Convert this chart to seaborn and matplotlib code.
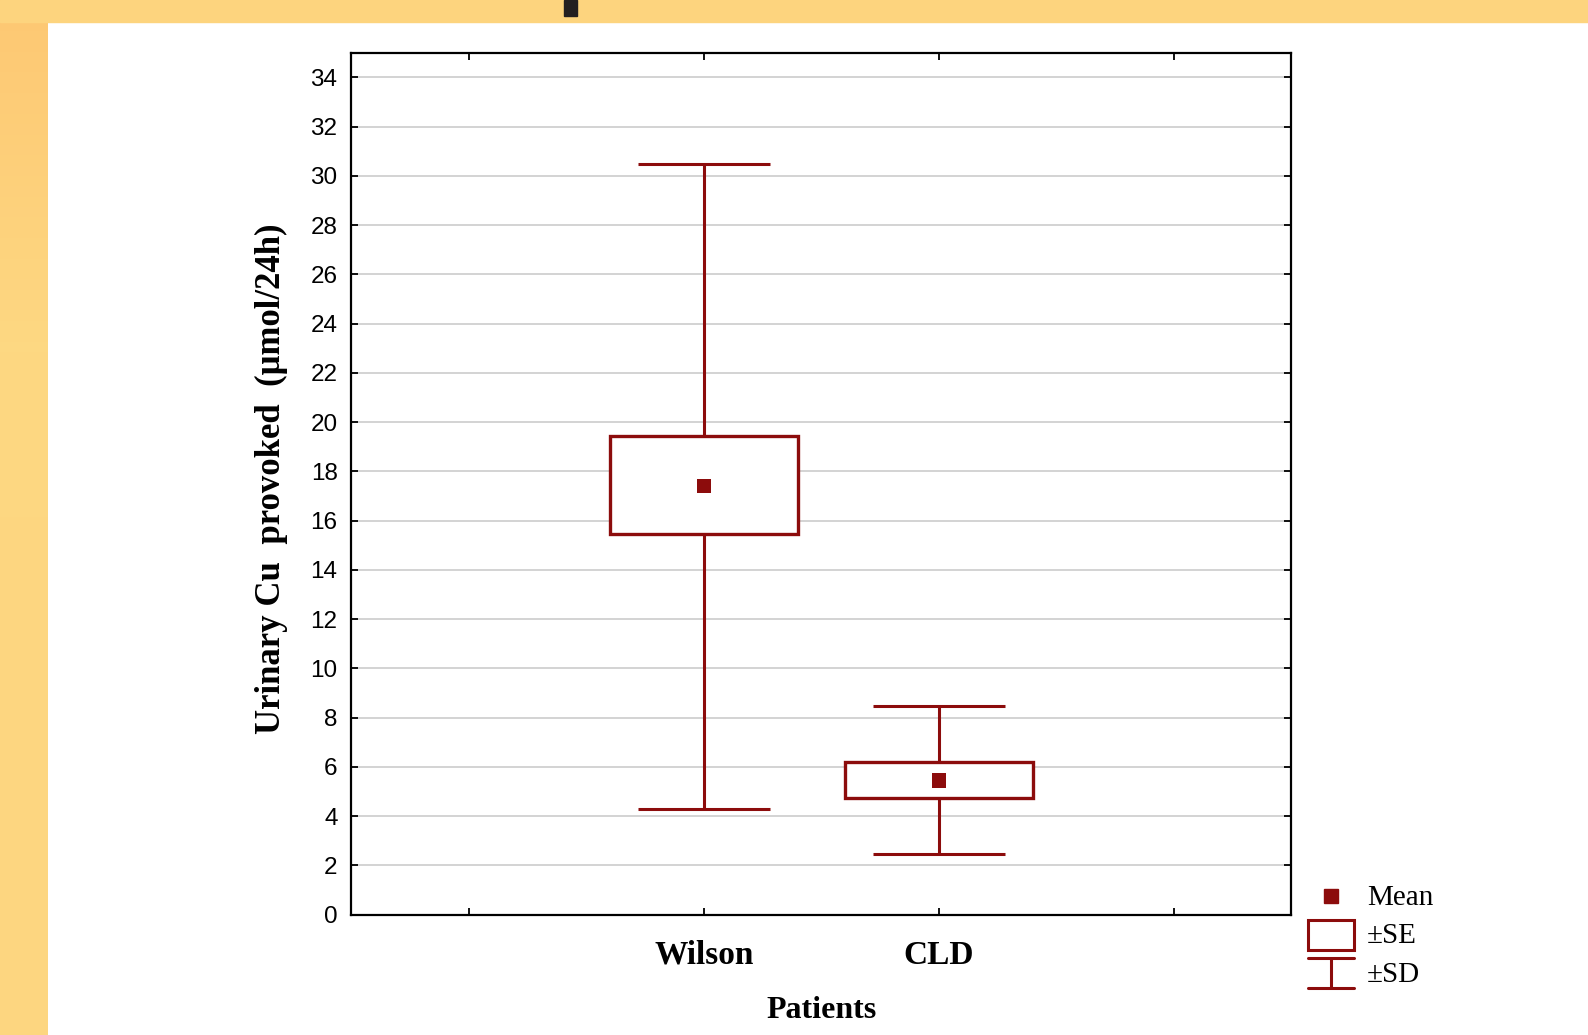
import numpy as np
import pandas as pd
import matplotlib
matplotlib.use("Agg")
import matplotlib.pyplot as plt
from matplotlib.patches import Rectangle
from matplotlib.lines import Line2D
from matplotlib.colors import LinearSegmentedColormap
import seaborn as sns

# ---------------- data ----------------
groups = ["Wilson", "CLD"]
means = [17.4, 5.45]
se_low = [15.45, 4.75]
se_high = [19.45, 6.2]
sd_low = [4.3, 2.45]
sd_high = [30.5, 8.45]
tick_labels = ["", "Wilson", "CLD", ""]
y_ticks = list(range(0, 36, 2))

RED = "#8C0C0C"
W, H = 1588, 1035

sns.set_theme(style="white")
plt.rcParams["font.family"] = ["Liberation Sans", "DejaVu Sans"]
plt.rcParams.update({"text.color": "black", "axes.labelcolor": "black",
                     "xtick.color": "black", "ytick.color": "black"})

fig = plt.figure(figsize=(W / 100, H / 100), dpi=100, facecolor="white")

# slide background strips
def px_rect(x0, y0, x1, y1, color, z=0):
    fig.patches.append(Rectangle((x0 / W, 1 - y1 / H), (x1 - x0) / W, (y1 - y0) / H,
                                 transform=fig.transFigure, color=color, zorder=z))

grad = np.linspace(0, 1, 100).reshape(-1, 1)
bax = fig.add_axes([0, 0, 48 / W, 1], zorder=-5)
cmap = LinearSegmentedColormap.from_list("o", ["#FDC873", "#FDD882", "#FDD680", "#FDD680"])
bax.imshow(grad, aspect="auto", cmap=cmap, extent=[0, 1, 0, 1], origin="upper")
bax.axis("off")
px_rect(0, 0, W, 22, "#FDD47E")
px_rect(564, 0, 577, 16, "#231F20", z=2)

# ---------------- main axes ----------------
left, right, top, bottom = 351.4, 1291.3, 52.7, 914.5
ax = fig.add_axes([left / W, 1 - bottom / H, (right - left) / W, (bottom - top) / H])
ax.set_facecolor("white")

positions = np.arange(len(groups)) + 1
df = pd.DataFrame({"pos": positions, "mean": means, "se_lo": se_low, "se_hi": se_high,
                   "sd_lo": sd_low, "sd_hi": sd_high})

# SD whiskers
ax.vlines(df["pos"], df["sd_lo"], df["sd_hi"], color=RED, lw=2.2, zorder=3)
ax.hlines(df["sd_hi"], df["pos"] - 0.28, df["pos"] + 0.28, color=RED, lw=2.2, zorder=3)
ax.hlines(df["sd_lo"], df["pos"] - 0.28, df["pos"] + 0.28, color=RED, lw=2.2, zorder=3)
# SE boxes
ax.bar(df["pos"], df["se_hi"] - df["se_lo"], bottom=df["se_lo"], width=0.8,
       facecolor="white", edgecolor=RED, linewidth=2.4, zorder=4)
# means
sns.scatterplot(data=df, x="pos", y="mean", marker="s", s=110, color=RED,
                edgecolor="none", zorder=5, ax=ax, legend=False)

ax.set_xlim(-0.5, 3.5)
ax.set_ylim(0, 35)
ax.set_yticks(y_ticks)
ax.set_xticks(range(len(tick_labels)))
ax.set_xticklabels(tick_labels, fontfamily="Liberation Serif", fontweight="bold", fontsize=24)
ax.tick_params(axis="y", labelsize=17.5, direction="in", length=5, width=1.3,
               right=True, left=True, pad=10, colors="black")
ax.tick_params(axis="x", direction="in", length=5, width=1.3, top=True, bottom=True, pad=18,
               colors="black")
ax.yaxis.grid(True, color="#C8C8C8", lw=1.1, zorder=0)
ax.xaxis.grid(False)
ax.set_axisbelow(True)
for s in ax.spines.values():
    s.set_color("black")
    s.set_linewidth(1.6)

ax.set_xlabel("Patients", fontfamily="Liberation Serif", fontweight="bold", fontsize=23,
              color="black")
ax.xaxis.label.set_va("center")
ax.xaxis.set_label_coords(0.5, (bottom - 1011) / (bottom - top))
ax.set_ylabel("Urinary Cu  provoked  (\u03bcmol/24h)", fontfamily="Liberation Serif",
              fontweight="bold", fontsize=25, color="black")
ax.yaxis.label.set_va("center")
ax.yaxis.set_label_coords((271 - left) / (right - left), (bottom - 479) / (bottom - top))

# ---------------- legend (figure pixel coords) ----------------
def fx(x):
    return x / W

def fy(y):
    return 1 - y / H

fig.lines.append(Line2D([fx(1331)], [fy(896)], marker="s", markersize=9.5, color=RED,
                        linestyle="none", transform=fig.transFigure))
fig.patches.append(Rectangle((fx(1308), fy(950)), (1354 - 1308) / W, (950 - 920) / H,
                             transform=fig.transFigure, facecolor="white",
                             edgecolor=RED, lw=2.2))
for yy in (958, 987.5):
    fig.lines.append(Line2D([fx(1308), fx(1354)], [fy(yy), fy(yy)], color=RED, lw=2.2,
                            transform=fig.transFigure))
fig.lines.append(Line2D([fx(1331), fx(1331)], [fy(958), fy(987.5)], color=RED, lw=2.2,
                        transform=fig.transFigure))
for txt, yy in (("Mean", 898), ("\u00b1SE", 936), ("\u00b1SD", 975)):
    fig.text(fx(1367), fy(yy), txt, fontfamily="Liberation Serif", fontsize=21,
             va="center", ha="left", color="black")

fig.savefig("out.png", dpi=100, facecolor=fig.get_facecolor())
